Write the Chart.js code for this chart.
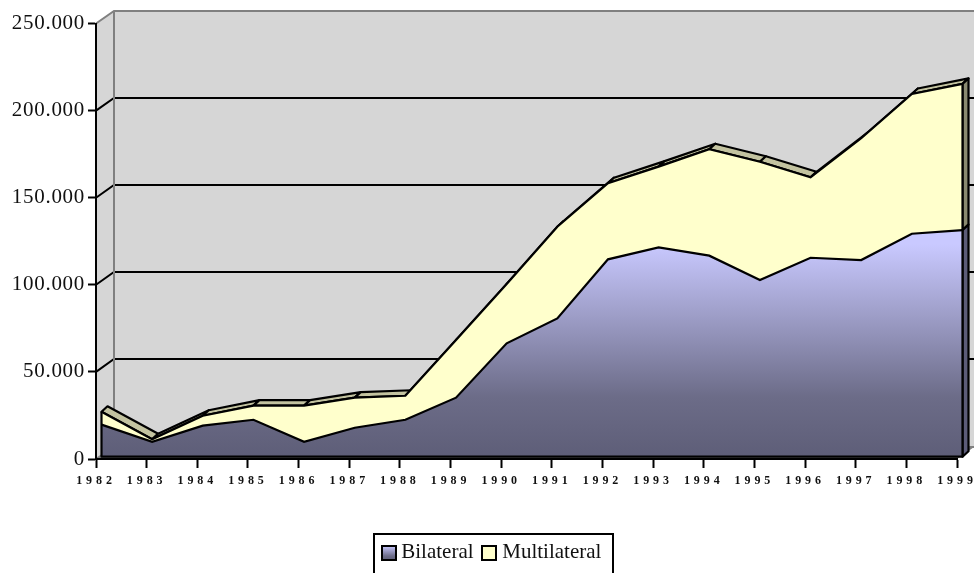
<!DOCTYPE html>
<html><head><meta charset="utf-8">
<style>html,body{margin:0;padding:0;background:#fff;overflow:hidden}#w{width:976px;height:573px;position:relative}</style>
<script src="https://cdn.jsdelivr.net/npm/chart.js@4"></script>
</head><body><div id="w"><canvas id="c" width="976" height="573"></canvas></div>
<script>
const categories = ['1982','1983','1984','1985','1986','1987','1988','1989','1990','1991','1992','1993','1994','1995','1996','1997','1998','1999'];
const bilateral = [18400,8600,17800,21200,8600,16600,21200,33900,65100,79400,113300,120200,115400,101400,114200,112900,128000,130100];
const multilateral = [7400,1400,5700,8100,20700,17300,13800,33100,34000,52600,43700,46300,61100,67900,46200,69900,80200,83900];
const yTicks = [0,50000,100000,150000,200000,250000];
const SERIF = '"Liberation Serif","Times New Roman",serif';
const WALL = {dx:18, dy:12.5, right:974};
const AREA = {dx:5.5, dy:-2.3};
const FACE = {dx:6, dy:-5.5};
const LEGEND_SHIFT = 13.5;

function blueGradient(ctx, y0, y1){
  const g = ctx.createLinearGradient(0,y0,0,y1);
  g.addColorStop(0,'#c9c9ff');
  g.addColorStop(0.72,'#6c6c88');
  g.addColorStop(1,'#5e5e78');
  return g;
}

const scene = {
  id:'scene',
  afterLayout(chart){
    const l = chart.legend;
    l.left += LEGEND_SHIFT; l.right += LEGEND_SHIFT;
    l.legendHitBoxes.forEach(h => h.left += LEGEND_SHIFT);
  },
  beforeDraw(chart){
    const {ctx, scales:{x,y}} = chart;
    if(!x._spaced){
      x._spaced = true;
      const dx = x.drawLabels, dy = y.drawLabels;
      x.drawLabels = function(a){ ctx.save(); ctx.letterSpacing='3.9px'; dx.call(this,a); ctx.restore(); };
      y.drawLabels = function(a){ ctx.save(); ctx.letterSpacing='0.7px'; dy.call(this,a); ctx.restore(); };
    }
    const L = x.left, R = x.right, T = y.getPixelForValue(250000), B = y.getPixelForValue(0);
    const bx = L+WALL.dx, by = Math.round(T-WALL.dy), b0 = Math.round(B-WALL.dy);
    ctx.save();
    ctx.fillStyle = '#d6d6d6';
    ctx.beginPath();
    ctx.moveTo(L,T); ctx.lineTo(bx,by); ctx.lineTo(WALL.right,by); ctx.lineTo(WALL.right,b0);
    ctx.lineTo(R,B); ctx.lineTo(L,B); ctx.closePath(); ctx.fill();
    yTicks.forEach(v => {
      const p = y.getPixelForValue(v), q = Math.round(p-WALL.dy);
      ctx.strokeStyle = (v===0||v===250000) ? '#808080' : '#000';
      ctx.lineWidth = 2;
      ctx.beginPath(); ctx.moveTo(L,p); ctx.lineTo(bx,q); ctx.lineTo(WALL.right,q); ctx.stroke();
    });
    ctx.strokeStyle='#808080'; ctx.lineWidth=2;
    ctx.beginPath(); ctx.moveTo(bx,by); ctx.lineTo(bx,b0); ctx.stroke();
    ctx.fillStyle='#808080';
    ctx.beginPath(); ctx.moveTo(L,B); ctx.lineTo(R,B); ctx.lineTo(WALL.right,b0); ctx.lineTo(bx,b0); ctx.closePath(); ctx.fill();
    ctx.restore();
  },
  beforeDatasetsDraw(chart){
    const {ctx} = chart;
    const base = chart.scales.y.getPixelForValue(0);
    const top = chart.getDatasetMeta(1).data, mid = chart.getDatasetMeta(0).data;
    ctx.save();
    ctx.translate(AREA.dx, AREA.dy);
    ctx.lineWidth = 2.2; ctx.lineJoin='round'; ctx.strokeStyle='#000';
    ctx.fillStyle='#c3c3a0';
    for(let i=0;i<top.length-1;i++){
      const a=top[i], b=top[i+1];
      ctx.beginPath();
      ctx.moveTo(a.x,a.y); ctx.lineTo(a.x+FACE.dx,a.y+FACE.dy); ctx.lineTo(b.x+FACE.dx,b.y+FACE.dy); ctx.lineTo(b.x,b.y);
      ctx.closePath(); ctx.fill(); ctx.stroke();
    }
    const t=top[top.length-1], m=mid[mid.length-1];
    ctx.fillStyle='#8a8a70';
    ctx.beginPath(); ctx.moveTo(t.x,t.y); ctx.lineTo(t.x+FACE.dx,t.y+FACE.dy); ctx.lineTo(m.x+FACE.dx,m.y+FACE.dy); ctx.lineTo(m.x,m.y); ctx.closePath(); ctx.fill(); ctx.stroke();
    ctx.fillStyle='#5c5c78';
    ctx.beginPath(); ctx.moveTo(m.x,m.y); ctx.lineTo(m.x+FACE.dx,m.y+FACE.dy); ctx.lineTo(m.x+FACE.dx,base+FACE.dy); ctx.lineTo(m.x,base); ctx.closePath(); ctx.fill(); ctx.stroke();
  },
  afterDatasetsDraw(chart){
    const {ctx} = chart;
    const base = chart.scales.y.getPixelForValue(0);
    const top = chart.getDatasetMeta(1).data;
    ctx.strokeStyle='#000'; ctx.lineWidth=2.2;
    ctx.beginPath();
    ctx.moveTo(top[0].x,top[0].y); ctx.lineTo(top[0].x,base);
    ctx.lineTo(top[top.length-1].x,base); ctx.lineTo(top[top.length-1].x,top[top.length-1].y);
    ctx.stroke();
    ctx.restore();
  },
  afterDraw(chart){
    const {ctx, legend} = chart;
    ctx.save();
    ctx.strokeStyle='#000'; ctx.lineWidth=2;
    const hb = legend.legendHitBoxes;
    const fx = Math.round(hb[0].left-9), fr = Math.round(hb[1].left+hb[1].width+12), fy = 534;
    ctx.strokeRect(fx,fy,fr-fx,60);
    hb.forEach((h,i) => {
      const sy = Math.round(h.top+h.height/2-6.5);
      const sx = Math.round(h.left)-1-i;
      ctx.fillStyle = i===0 ? blueGradient(ctx,sy,sy+14) : '#ffffcc';
      ctx.fillRect(sx,sy,14,14);
      ctx.strokeRect(sx,sy,14,14);
    });
    ctx.restore();
  }
};

new Chart(document.getElementById('c'),{
  type:'line',
  data:{labels:categories,datasets:[
    {label:'Bilateral',data:bilateral,borderColor:'#000',borderWidth:2.2,pointRadius:0,tension:0,clip:false,fill:'origin',
     backgroundColor(c){ const a=c.chart.chartArea; if(!a) return '#8888aa';
       const y=c.chart.scales.y; return blueGradient(c.chart.ctx,y.getPixelForValue(122000),y.getPixelForValue(0)); }},
    {label:'Multilateral',data:multilateral,borderColor:'#000',borderWidth:2.2,pointRadius:0,tension:0,clip:false,fill:'-1',backgroundColor:'#ffffcc'}
  ]},
  plugins:[scene],
  options:{
    responsive:false,animation:false,
    layout:{padding:{top:23.5,right:19,left:0,bottom:0}},
    scales:{
      x:{offset:false,stacked:true,
        border:{color:'#000',width:2},
        grid:{drawOnChartArea:false,drawTicks:true,tickLength:9,tickColor:'#000',tickWidth:2},
        ticks:{color:'#111',maxRotation:0,autoSkip:false,padding:6,font:{family:SERIF,size:12,weight:'bold'}},
        afterFit(s){ s.height=73; }},
      y:{stacked:true,min:0,max:250000,
        border:{color:'#000',width:2},
        grid:{drawOnChartArea:false,drawTicks:true,tickLength:8,tickColor:'#000',tickWidth:2},
        afterBuildTicks(s){ s.ticks = yTicks.map(v=>({value:v})); },
        ticks:{color:'#111',padding:3,font:{family:SERIF,size:21},callback(v){ return v===0?'0':(v/1000)+'.000'; }},
        afterFit(s){ s.width=96; }}
    },
    plugins:{
      tooltip:{enabled:false},
      legend:{position:'bottom',align:'center',
        labels:{color:'#111',font:{family:SERIF,size:21},boxWidth:8.2,boxHeight:13,padding:10,
          generateLabels(chart){ return chart.data.datasets.map((d,i)=>({text:d.label,fillStyle:'transparent',strokeStyle:'transparent',lineWidth:0,datasetIndex:i,fontColor:'#111'})); }}}
    }
  }
});
</script></body></html>
